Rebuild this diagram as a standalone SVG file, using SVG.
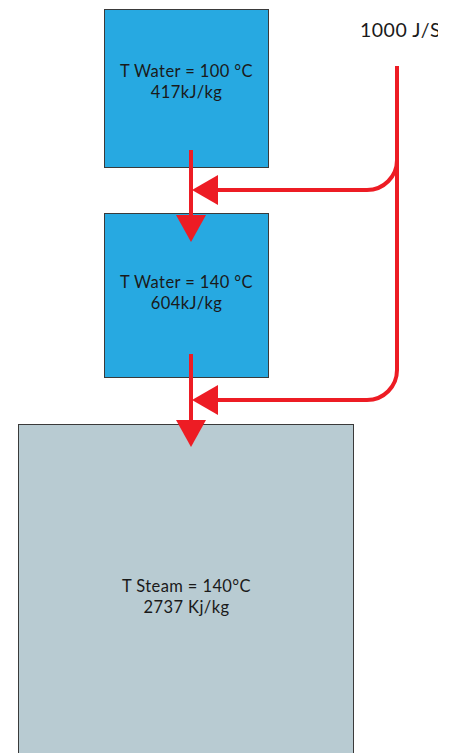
<svg xmlns="http://www.w3.org/2000/svg" width="457" height="753" viewBox="0 0 457 753">
<style>
.box{stroke:#3a3a3a;stroke-width:1}
.water{fill:#27A9E1}
.steam{fill:#B8CBD2}
.t{font-family:Lato,"Open Sans",sans-serif;font-size:16.5px;letter-spacing:0.4px;fill:#1a1a1a;text-anchor:middle}
.c{fill:none;stroke:#ED1C24;stroke-width:4}
.h{fill:#ED1C24}
</style>
<defs>
<clipPath id="clip"><rect x="0" y="0" width="438" height="753"/></clipPath>
</defs>
<rect width="457" height="753" fill="#fff"/>
<g id="node-water100">
<rect class="box water" x="104.5" y="9.5" width="164" height="158"/>
<text class="t" x="186.5" y="77">T Water = 100 °C</text>
<text class="t" x="186.5" y="98">417kJ/kg</text>
</g>
<g id="node-water140">
<rect class="box water" x="104.5" y="213.5" width="164" height="164"/>
<text class="t" x="186.5" y="288">T Water = 140 °C</text>
<text class="t" x="186.5" y="309">604kJ/kg</text>
</g>
<g id="node-steam">
<rect class="box steam" x="18.5" y="424.5" width="335" height="340"/>
<text class="t" x="186.5" y="592">T Steam = 140°C</text>
<text class="t" x="186.5" y="613">2737 Kj/kg</text>
</g>
<g id="node-heat">
<text x="360" y="37" clip-path="url(#clip)" style="font-family:Lato,'Open Sans',sans-serif;font-size:19.5px;letter-spacing:0.5px;fill:#1a1a1a">1000 J/S</text>
</g>
<g id="connectors">
<path class="c" d="M191 150 V218"/>
<polygon class="h" points="176,215 206,215 191,242"/>
<path class="c" d="M191 354 V422"/>
<polygon class="h" points="176,420 206,420 191,447"/>
<path class="c" d="M397 66 V160 A30 30 0 0 1 367 190 H214"/>
<polygon class="h" points="218,175 218,205 192,190"/>
<path class="c" d="M397 160 V370 A30 30 0 0 1 367 400 H214"/>
<polygon class="h" points="218,385 218,415 192,400"/>
</g>
</svg>
